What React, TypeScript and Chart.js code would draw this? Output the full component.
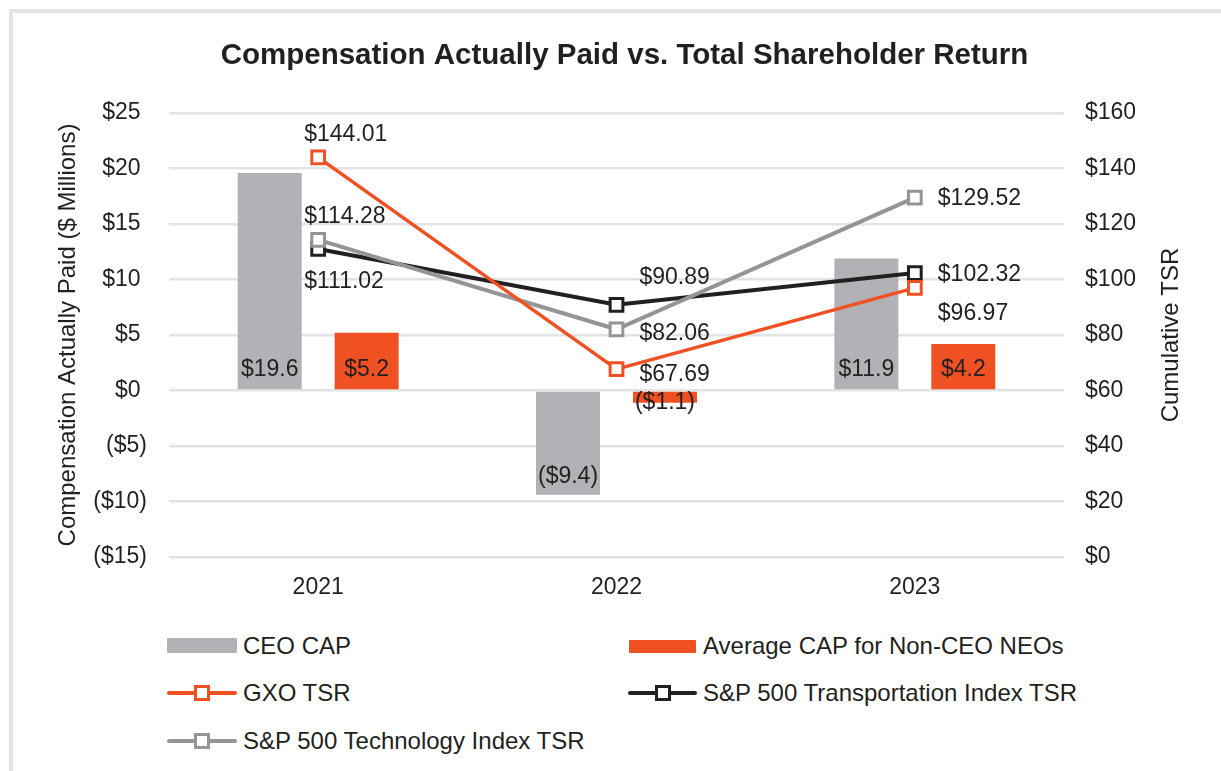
import React, { useEffect, useRef } from "react";
import { Chart, registerables } from "chart.js";

Chart.register(...registerables);

// ---- Data ----
const YEARS = ["2021", "2022", "2023"];
const CEO_CAP = [19.6, -9.4, 11.9];
const NEO_CAP = [5.2, -1.1, 4.2];
const GXO_TSR = [144.01, 67.69, 96.97];
const TRANS_TSR = [111.02, 90.89, 102.32];
const TECH_TSR = [114.28, 82.06, 129.52];

const LEFT_MIN = -15;
const LEFT_MAX = 25;
const LEFT_STEP = 5;
const RIGHT_MIN = 0;
const RIGHT_MAX = 160;
const RIGHT_STEP = 20;

const TITLE = "Compensation Actually Paid vs. Total Shareholder Return";
const LEFT_TITLE = "Compensation Actually Paid ($ Millions)";
const RIGHT_TITLE = "Cumulative TSR";

// ---- Styles ----
const FONT = '"Liberation Sans", Arial, Helvetica, sans-serif';
const TEXT = "#231f20";
const GREY_BAR = "#b1b2b5";
const ORANGE = "#f05123";
const BLACK = "#231f20";
const GREY_LINE = "#939598";
const GRID = "#e2e3e4";

// label offsets (px) for line labels, per dataset, per point: [dx, dy]
const GXO_LABEL_OFFSETS = [[-14, -23], [23, 5], [23, 26]];
const TRANS_LABEL_OFFSETS = [[-14, 33], [23, -27], [23, 2]];
const TECH_LABEL_OFFSETS = [[-14, -23], [23, 4], [23, 1]];

const fmtBar = (v: number) => (v < 0 ? `($${(-v).toFixed(1)})` : `$${v.toFixed(1)}`);
const fmtTsr = (v: number) => `$${v.toFixed(2)}`;

const labelPlugin = {
  id: "dataLabels",
  afterDatasetsDraw(chart: any) {
    const ctx = chart.ctx;
    ctx.save();
    ctx.font = `23px ${FONT}`;
    ctx.fillStyle = TEXT;
    ctx.textBaseline = "middle";
    const y0 = chart.scales.y.getPixelForValue(0);
    chart.data.datasets.forEach((ds: any, i: number) => {
      const meta = chart.getDatasetMeta(i);
      meta.data.forEach((el: any, j: number) => {
        const v = ds.data[j] as number;
        if (ds.type === "bar") {
          const y = v >= 0 ? y0 - 21 : Math.max(el.y - 18, y0 + 12);
          ctx.textAlign = "center";
          ctx.fillText(fmtBar(v), el.x, y);
        } else {
          const off = ds.labelOffsets[j];
          ctx.textAlign = "left";
          ctx.fillText(fmtTsr(v), el.x + off[0], el.y + off[1]);
        }
      });
    });
    // right axis title, reading bottom-to-top
    const area = chart.chartArea;
    ctx.save();
    ctx.translate(1171, (area.top + area.bottom) / 2);
    ctx.rotate(-Math.PI / 2);
    ctx.font = `24px ${FONT}`;
    ctx.textAlign = "center";
    ctx.textBaseline = "middle";
    ctx.fillText(RIGHT_TITLE, 0, 0);
    ctx.restore();
    ctx.restore();
  },
};

function LegendSwatchBar({ color, x, y, w, h }: any) {
  return (
    <div
      style={{
        position: "absolute",
        left: x,
        top: y - h / 2,
        width: w,
        height: h,
        background: color,
        borderRadius: 1,
      }}
    />
  );
}

function LegendSwatchLine({ color, x, y, w }: any) {
  return (
    <>
      <div
        style={{
          position: "absolute",
          left: x,
          top: y - 2,
          width: w,
          height: 4,
          background: color,
          borderRadius: 2,
        }}
      />
      <div
        style={{
          position: "absolute",
          left: x + w / 2 - 8,
          top: y - 8,
          width: 10,
          height: 10,
          background: "#fff",
          border: `3px solid ${color}`,
        }}
      />
    </>
  );
}

function LegendText({ x, y, children }: any) {
  return (
    <div
      style={{
        position: "absolute",
        left: x,
        top: y - 15,
        height: 30,
        lineHeight: "30px",
        fontFamily: FONT,
        fontSize: 24,
        color: TEXT,
        whiteSpace: "nowrap",
      }}
    >
      {children}
    </div>
  );
}

export default function App() {
  const ref = useRef<HTMLCanvasElement>(null);

  useEffect(() => {
    const chart = new Chart(ref.current!, {
      type: "bar",
      data: {
        labels: YEARS,
        datasets: [
          {
            type: "line",
            label: "GXO TSR",
            data: GXO_TSR,
            yAxisID: "y1",
            borderColor: ORANGE,
            borderWidth: 3.5,
            pointStyle: "rect",
            pointRadius: 9,
            pointBorderWidth: 3,
            pointBackgroundColor: "#fff",
            pointBorderColor: ORANGE,
            order: 0,
            labelOffsets: GXO_LABEL_OFFSETS,
          } as any,
          {
            type: "line",
            label: "S&P 500 Transportation Index TSR",
            data: TRANS_TSR,
            yAxisID: "y1",
            borderColor: BLACK,
            borderWidth: 4,
            pointStyle: "rect",
            pointRadius: 9,
            pointBorderWidth: 3,
            pointBackgroundColor: "#fff",
            pointBorderColor: BLACK,
            order: 2,
            labelOffsets: TRANS_LABEL_OFFSETS,
          } as any,
          {
            type: "line",
            label: "S&P 500 Technology Index TSR",
            data: TECH_TSR,
            yAxisID: "y1",
            borderColor: GREY_LINE,
            borderWidth: 4,
            pointStyle: "rect",
            pointRadius: 9,
            pointBorderWidth: 3,
            pointBackgroundColor: "#fff",
            pointBorderColor: GREY_LINE,
            order: 1,
            labelOffsets: TECH_LABEL_OFFSETS,
          } as any,
          {
            type: "bar",
            label: "CEO CAP",
            data: CEO_CAP,
            yAxisID: "y",
            backgroundColor: GREY_BAR,
            categoryPercentage: 0.65,
            barPercentage: 0.66,
            order: 5,
          } as any,
          {
            type: "bar",
            label: "Average CAP for Non-CEO NEOs",
            data: NEO_CAP,
            yAxisID: "y",
            backgroundColor: ORANGE,
            categoryPercentage: 0.65,
            barPercentage: 0.66,
            order: 5,
          } as any,
        ],
      },
      options: {
        responsive: false,
        animation: false,
        layout: { padding: 0 },
        plugins: {
          legend: { display: false },
          tooltip: { enabled: false },
          title: {
            display: true,
            text: TITLE,
            color: TEXT,
            font: { family: FONT, size: 29.5, weight: "bold" },
            padding: { top: 38.5, bottom: 39.1 },
          },
        },
        scales: {
          x: {
            offset: true,
            grid: { display: false, drawTicks: false },
            border: { display: false },
            ticks: { color: TEXT, font: { family: FONT, size: 23 }, padding: 17 },
            afterFit: (s: any) => {
              s.height = 53;
            },
          },
          y: {
            position: "left",
            min: LEFT_MIN,
            max: LEFT_MAX,
            grid: { color: GRID, lineWidth: 2.5, drawTicks: false },
            border: { display: false },
            ticks: {
              stepSize: LEFT_STEP,
              color: TEXT,
              font: { family: FONT, size: 23 },
              padding: 22,
              callback: (v: any) => (v < 0 ? `($${-v})` : `$${v} `),
            },
            title: {
              display: true,
              text: LEFT_TITLE,
              color: TEXT,
              font: { family: FONT, size: 24 },
              padding: { top: 54, bottom: 0 },
            },
            afterFit: (s: any) => {
              s.width = 169;
            },
          },
          y1: {
            position: "right",
            min: RIGHT_MIN,
            max: RIGHT_MAX,
            grid: { display: false, drawTicks: false },
            border: { display: false },
            ticks: {
              stepSize: RIGHT_STEP,
              color: TEXT,
              font: { family: FONT, size: 23 },
              padding: 21,
              callback: (v: any) => `$${v}`,
            },
            title: { display: false },
            afterFit: (s: any) => {
              s.width = 185;
            },
          },
        },
      } as any,
      plugins: [labelPlugin],
    });
    return () => chart.destroy();
  }, []);

  return (
    <div
      style={{
        position: "fixed",
        left: 0,
        top: 0,
        width: 1221,
        height: 771,
        overflow: "hidden",
        background: "#fff",
      }}
    >
      <div
        style={{
          position: "absolute",
          left: 9,
          top: 9,
          width: 1400,
          height: 1000,
          borderLeft: "4px solid #e4e4e4",
          borderTop: "4px solid #e4e4e4",
        }}
      />
      <canvas
        ref={ref}
        width={1249}
        height={610}
        style={{ position: "absolute", left: 0, top: 0, display: "block" }}
      />
      <LegendSwatchBar color={GREY_BAR} x={167} y={645.5} w={70} h={15} />
      <LegendText x={243} y={645.5}>CEO CAP</LegendText>
      <LegendSwatchBar color={ORANGE} x={629} y={646.5} w={67} h={13} />
      <LegendText x={703} y={645.5}>Average CAP for Non-CEO NEOs</LegendText>
      <LegendSwatchLine color={ORANGE} x={167} y={693} w={70} />
      <LegendText x={243} y={693}>GXO TSR</LegendText>
      <LegendSwatchLine color={BLACK} x={628} y={693} w={69} />
      <LegendText x={703} y={693}>S&amp;P 500 Transportation Index TSR</LegendText>
      <LegendSwatchLine color={GREY_LINE} x={167} y={741} w={70} />
      <LegendText x={243} y={741}>S&amp;P 500 Technology Index TSR</LegendText>
    </div>
  );
}
